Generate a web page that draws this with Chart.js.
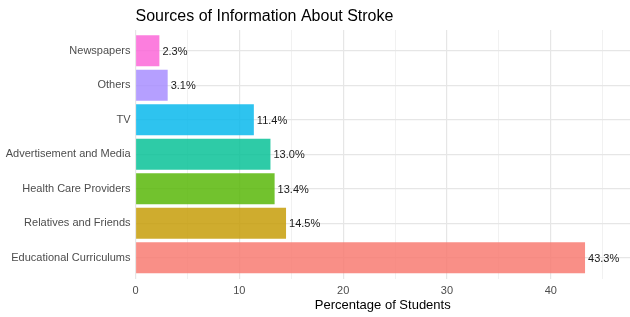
<!DOCTYPE html>
<html>
<head>
<meta charset="utf-8">
<script src="https://cdn.jsdelivr.net/npm/chart.js@4.4.1/dist/chart.umd.min.js"></script>
<style>
  html, body { margin: 0; padding: 0; background: #ffffff; }
  #wrap { width: 630px; height: 317px; position: relative; }
</style>
</head>
<body>
<div id="wrap"><canvas id="c" width="630" height="317"></canvas></div>
<script>
// Data (top to bottom as shown)
const categories = ["Newspapers", "Others", "TV", "Advertisement and Media", "Health Care Providers", "Relatives and Friends", "Educational Curriculums"];
const percentages = [2.3, 3.1, 11.4, 13.0, 13.4, 14.5, 43.3];
const barColors = ["rgba(251,97,215,0.82)", "rgba(165,138,255,0.82)", "rgba(0,182,235,0.82)", "rgba(0,192,148,0.82)", "rgba(83,180,0,0.82)", "rgba(196,154,0,0.82)", "rgba(248,118,109,0.82)"];
const xTickValues = [0, 10, 20, 30, 40];

const FONT = "'Liberation Sans', Arial, sans-serif";

const valueLabels = {
  id: 'valueLabels',
  afterDatasetsDraw(chart) {
    const ctx = chart.ctx;
    const meta = chart.getDatasetMeta(0);
    ctx.save();
    ctx.font = "11px " + FONT;
    ctx.fillStyle = "#1a1a1a";
    ctx.textAlign = "left";
    ctx.textBaseline = "middle";
    meta.data.forEach((bar, i) => {
      ctx.fillText(percentages[i].toFixed(1) + "%", bar.x + 3, bar.y + 1);
    });
    ctx.restore();
  }
};

new Chart(document.getElementById('c'), {
  type: 'bar',
  data: {
    datasets: [{
      data: percentages.map((v, i) => ({ x: v, y: i })),
      backgroundColor: barColors,
      borderWidth: 0,
      barPercentage: 0.9,
      categoryPercentage: 1.0
    }]
  },
  options: {
    indexAxis: 'y',
    responsive: false,
    animation: false,
    layout: { padding: { left: 0, right: 0, top: 0, bottom: 0 } },
    plugins: {
      legend: { display: false },
      tooltip: { enabled: false },
      title: {
        display: true,
        text: "Sources of Information About Stroke",
        align: 'start',
        fullSize: false,
        color: '#000000',
        font: { family: FONT, size: 16, weight: 'normal' },
        padding: { top: 6.5, bottom: 4.3 }
      }
    },
    scales: {
      x: {
        type: 'linear',
        min: 0,
        max: 47.63,
        offset: false,
        border: { display: false },
        grid: {
          offset: false,
          drawTicks: false,
          color: (c) => (c.tick && xTickValues.includes(c.tick.value)) ? '#e6e6e6' : '#f1f1f1',
          lineWidth: (c) => (c.tick && xTickValues.includes(c.tick.value)) ? 1.2 : 1
        },
        ticks: {
          stepSize: 5,
          includeBounds: false,
          autoSkip: false,
          maxRotation: 0,
          padding: 6,
          color: '#4d4d4d',
          font: { family: FONT, size: 11 },
          callback: (v) => xTickValues.includes(v) ? String(v) : ''
        },
        title: {
          display: true,
          text: "Percentage of Students",
          color: '#000000',
          font: { family: FONT, size: 13 },
          padding: { top: 0, bottom: 4 }
        },
        afterFit: (s) => { s.height = 38.5; }
      },
      y: {
        type: 'linear',
        reverse: true,
        min: -0.6,
        max: categories.length - 0.4,
        offset: false,
        border: { display: false },
        grid: { offset: false, drawTicks: false, color: '#e6e6e6', lineWidth: 1.2 },
        ticks: {
          stepSize: 1,
          includeBounds: false,
          autoSkip: false,
          padding: 5,
          color: '#4d4d4d',
          font: { family: FONT, size: 11 },
          callback: (v) => Number.isInteger(v) && categories[v] !== undefined ? categories[v] : ''
        },
        afterFit: (s) => { s.width = 135.5; }
      }
    }
  },
  plugins: [valueLabels]
});
</script>
</body>
</html>
